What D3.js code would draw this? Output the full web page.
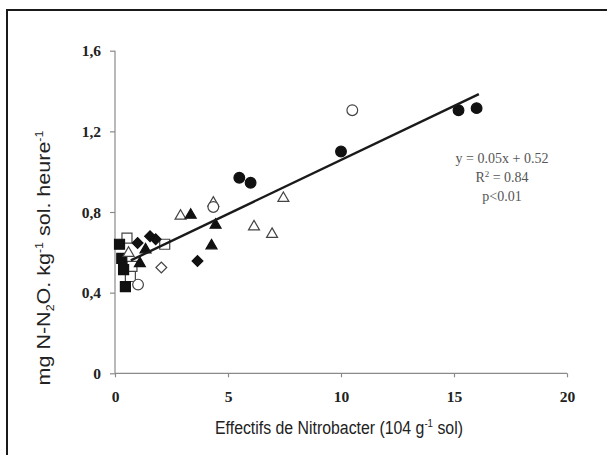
<!DOCTYPE html>
<html>
<head>
<meta charset="utf-8">
<script src="https://cdn.jsdelivr.net/npm/d3@7"></script>
<style>
  html, body { margin: 0; padding: 0; background: #fff; }
  svg { display: block; }
</style>
</head>
<body>
<svg id="chart" width="607" height="455"></svg>
<script>
// ---- data ----
const xTicks = [0, 5, 10, 15, 20];
const xTickLabels = ["0", "5", "10", "15", "20"];
const yTicks = [0, 0.4, 0.8, 1.2, 1.6];
const yTickLabels = ["0", "0,4", "0,8", "1,2", "1,6"];

const filledCircleX = [5.5, 6.0, 10.0, 15.2, 16.0];
const filledCircleY = [0.97, 0.945, 1.10, 1.305, 1.315];
const openCircleX = [10.5, 4.35, 1.02];
const openCircleY = [1.305, 0.825, 0.44];
const openTriangleX = [2.9, 4.35, 6.15, 6.95, 7.45, 0.6];
const openTriangleY = [0.78, 0.845, 0.727, 0.69, 0.868, 0.596];
const filledTriangleX = [3.35, 4.45, 4.27, 1.1, 1.35];
const filledTriangleY = [0.785, 0.735, 0.633, 0.545, 0.613];
const filledDiamondX = [3.65, 1.0, 1.55, 1.8];
const filledDiamondY = [0.557, 0.646, 0.68, 0.665];
const openDiamondX = [2.05];
const openDiamondY = [0.525];
const openSquareX = [0.53, 2.2, 0.75, 0.68];
const openSquareY = [0.67, 0.64, 0.53, 0.48];
const filledSquareX = [0.2, 0.3, 0.38, 0.46];
const filledSquareY = [0.64, 0.57, 0.514, 0.43];

const fitX = [0.7, 16.1];
const fitY = [0.56, 1.385];

const annotationLines = ["y = 0.05x + 0.52", "R2 = 0.84", "p<0.01"];

// ---- drawing ----
const svg = d3.select("#chart");
const x = d3.scaleLinear().domain([0, 20]).range([115, 567]);
const y = d3.scaleLinear().domain([0, 1.6]).range([373.3, 50.7]);

// outer frame
svg.append("rect").attr("x", 7).attr("y", 10).attr("width", 700).attr("height", 600)
  .attr("fill", "none").attr("stroke", "#1a1a1a").attr("stroke-width", 2);

const axisColor = "#8a8a8a";
const tickFont = "'Liberation Serif', 'Times New Roman', serif";

const xAxis = svg.append("g").attr("transform", `translate(0,${y(0)})`)
  .call(d3.axisBottom(x).tickValues(xTicks).tickSize(4).tickFormat((d, i) => xTickLabels[i]));
const yAxis = svg.append("g").attr("transform", `translate(${x(0)},0)`)
  .call(d3.axisLeft(y).tickValues(yTicks).tickSize(5).tickFormat((d, i) => yTickLabels[i]));

[xAxis, yAxis].forEach(g => {
  g.select(".domain").attr("stroke", axisColor).attr("stroke-width", 1.2);
  g.selectAll(".tick line").attr("stroke", axisColor).attr("stroke-width", 1.2);
  g.selectAll(".tick text").attr("fill", "#222").attr("font-family", tickFont)
    .attr("font-weight", "bold").attr("font-size", 15.5);
});
xAxis.select(".domain").attr("d", `M${x(0)},0H${x(20)}`);
yAxis.select(".domain").attr("d", `M0,${y(0)}V${y(1.6)}`);
xAxis.selectAll(".tick text").attr("y", 18).attr("dy", "0.71em");
yAxis.selectAll(".tick text").attr("x", -14).attr("dy", "0.34em");

// points
const zip = (xs, ys) => xs.map((v, i) => [v, ys[i]]);
const groups = [
  { pts: zip(openSquareX, openSquareY), type: d3.symbolSquare, size: 100, fill: "#fff", rot: 0 },
  { pts: zip(filledSquareX, filledSquareY), type: d3.symbolSquare, size: 100, fill: "#111", rot: 0 },
  { pts: zip(openDiamondX, openDiamondY), type: d3.symbolSquare, size: 58, fill: "#fff", rot: 45 },
  { pts: zip(filledDiamondX, filledDiamondY), type: d3.symbolSquare, size: 58, fill: "#111", rot: 45 },
  { pts: zip(openTriangleX, openTriangleY), type: d3.symbolTriangle, size: 52, fill: "#fff", rot: 0 },
  { pts: zip(filledTriangleX, filledTriangleY), type: d3.symbolTriangle, size: 52, fill: "#111", rot: 0 },
  { pts: zip(openCircleX, openCircleY), type: d3.symbolCircle, size: 90, fill: "#fff", rot: 0 },
  { pts: zip(filledCircleX, filledCircleY), type: d3.symbolCircle, size: 90, fill: "#111", rot: 0 }
];
groups.forEach(gp => {
  svg.append("g").selectAll("path").data(gp.pts).join("path")
    .attr("d", d3.symbol().type(gp.type).size(gp.size))
    .attr("transform", d => `translate(${x(d[0])},${y(d[1])}) rotate(${gp.rot})`)
    .attr("fill", gp.fill)
    .attr("stroke", gp.fill === "#fff" ? "#444" : "#111")
    .attr("stroke-width", 1.2);
});

// trend line
svg.append("path").datum(zip(fitX, fitY))
  .attr("d", d3.line().x(d => x(d[0])).y(d => y(d[1])))
  .attr("stroke", "#1a1a1a").attr("stroke-width", 2.4).attr("fill", "none");

// annotation
const ann = svg.append("g").attr("font-family", tickFont).attr("font-size", 14)
  .attr("fill", "#555").attr("text-anchor", "middle");
ann.append("text").attr("x", 502).attr("y", 163).text(annotationLines[0]);
const r2 = ann.append("text").attr("x", 502).attr("y", 182);
r2.append("tspan").text(annotationLines[1].slice(0, 1));
r2.append("tspan").attr("font-size", 9).attr("dy", -5).text(annotationLines[1].slice(1, 2));
r2.append("tspan").attr("dy", 5).text(annotationLines[1].slice(2));
ann.append("text").attr("x", 502).attr("y", 201).text(annotationLines[2]);

// axis titles
const sans = "'Liberation Sans', Arial, sans-serif";
function titleParts(t, parts, supSize) {
  parts.forEach(p => {
    const ts = t.append("tspan").text(p.t);
    if (p.sup) ts.attr("font-size", supSize).attr("dy", -7);
    if (p.sub) ts.attr("font-size", supSize).attr("dy", 4);
    if (p.back) ts.attr("dy", p.back);
  });
}
const xt = svg.append("text").attr("font-family", sans).attr("font-size", 18)
  .attr("fill", "#222").attr("text-anchor", "middle");
titleParts(xt, [
  { t: "Effectifs de Nitrobacter (104 g" },
  { t: "-1", sup: true },
  { t: " sol)", back: 7 }
], 11);
const xw = xt.node().getComputedTextLength();
xt.attr("transform", `translate(339,434) scale(${248 / xw},1)`);

const yt = svg.append("text").attr("font-family", sans).attr("font-size", 19)
  .attr("fill", "#222").attr("text-anchor", "middle");
titleParts(yt, [
  { t: "mg N-N" },
  { t: "2", sub: true },
  { t: "O. kg", back: -4 },
  { t: "-1", sup: true },
  { t: " sol. heure", back: 7 },
  { t: "-1", sup: true }
], 11);
const yw = yt.node().getComputedTextLength();
yt.attr("transform", `translate(50,258) rotate(-90) scale(${255 / yw},1)`);
</script>
</body>
</html>
